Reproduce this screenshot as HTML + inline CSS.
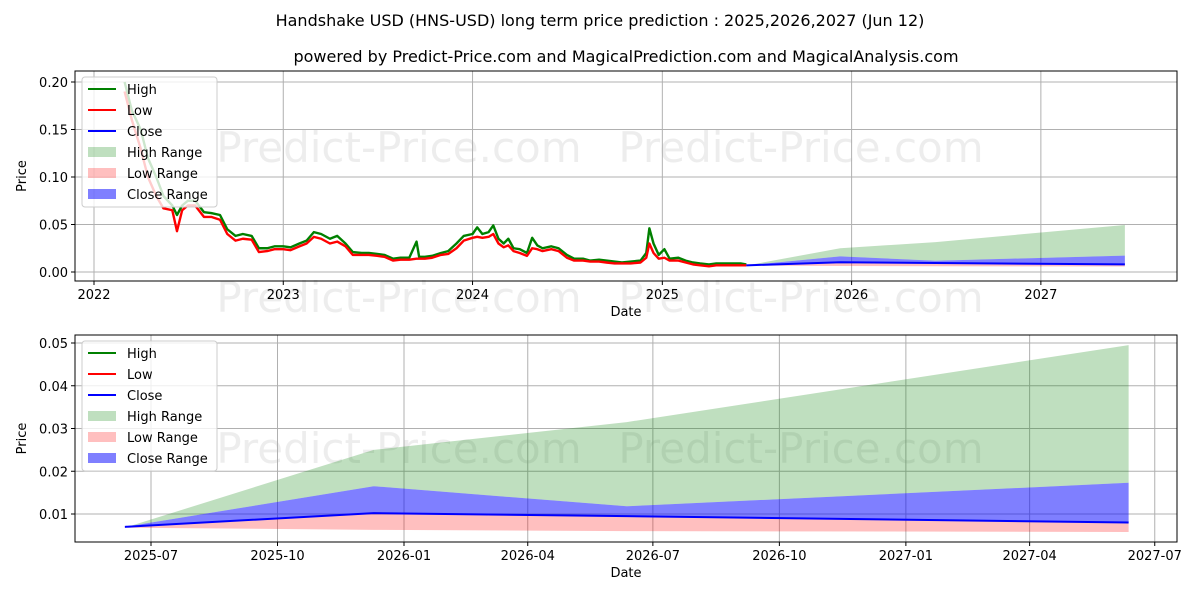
<!DOCTYPE html>
<html><head><meta charset="utf-8">
<style>
body{margin:0;background:#fff;}
svg{display:block;font-family:"DejaVu Sans","Liberation Sans",sans-serif;}
</style></head>
<body>
<svg id="chart" width="1200" height="600" viewBox="0 0 1200 600" xmlns="http://www.w3.org/2000/svg">
<rect width="1200" height="600" fill="#fff"/>
<text x="600" y="26" text-anchor="middle" font-size="16">Handshake USD (HNS-USD) long term price prediction : 2025,2026,2027 (Jun 12)</text>
<text x="626" y="62" text-anchor="middle" font-size="16">powered by Predict-Price.com and MagicalPrediction.com and MagicalAnalysis.com</text>
<g id="top"></g>
<g id="bot"></g>
</svg>
<script>
const histDates=["2022-03-01","2022-03-15","2022-04-01","2022-04-15","2022-05-01","2022-05-15","2022-06-01","2022-06-10","2022-06-20","2022-07-01","2022-07-15","2022-08-01","2022-08-15","2022-09-01","2022-09-15","2022-10-01","2022-10-15","2022-11-01","2022-11-15","2022-12-01","2022-12-15","2023-01-01","2023-01-15","2023-02-01","2023-02-15","2023-03-01","2023-03-15","2023-04-01","2023-04-15","2023-05-01","2023-05-15","2023-06-01","2023-06-15","2023-07-01","2023-07-15","2023-08-01","2023-08-15","2023-09-01","2023-09-15","2023-09-20","2023-10-01","2023-10-15","2023-11-01","2023-11-15","2023-12-01","2023-12-15","2024-01-01","2024-01-10","2024-01-20","2024-02-01","2024-02-10","2024-02-20","2024-03-01","2024-03-10","2024-03-20","2024-04-01","2024-04-15","2024-04-25","2024-05-05","2024-05-15","2024-06-01","2024-06-15","2024-07-01","2024-07-15","2024-08-01","2024-08-15","2024-09-01","2024-09-15","2024-10-01","2024-10-15","2024-11-01","2024-11-20","2024-12-01","2024-12-07","2024-12-15","2024-12-25","2025-01-05","2025-01-15","2025-02-01","2025-02-15","2025-03-01","2025-03-15","2025-04-01","2025-04-15","2025-05-01","2025-05-15","2025-06-01","2025-06-12"];
const histHigh=[0.20,0.17,0.15,0.12,0.10,0.08,0.07,0.06,0.07,0.075,0.075,0.063,0.062,0.06,0.045,0.038,0.04,0.038,0.025,0.025,0.027,0.027,0.026,0.03,0.033,0.042,0.04,0.035,0.038,0.03,0.021,0.02,0.02,0.019,0.018,0.014,0.015,0.015,0.032,0.016,0.016,0.017,0.02,0.022,0.03,0.038,0.04,0.047,0.04,0.042,0.049,0.035,0.03,0.035,0.025,0.024,0.02,0.036,0.028,0.025,0.027,0.025,0.018,0.014,0.014,0.012,0.013,0.012,0.011,0.01,0.011,0.012,0.02,0.046,0.03,0.018,0.024,0.014,0.015,0.012,0.01,0.009,0.008,0.009,0.009,0.009,0.009,0.008];
const histLow=[0.19,0.16,0.13,0.10,0.08,0.067,0.065,0.043,0.065,0.07,0.07,0.058,0.058,0.055,0.04,0.033,0.035,0.034,0.021,0.022,0.024,0.024,0.023,0.027,0.03,0.037,0.035,0.03,0.032,0.027,0.018,0.018,0.018,0.017,0.016,0.012,0.013,0.013,0.014,0.014,0.014,0.015,0.018,0.019,0.025,0.033,0.036,0.037,0.036,0.037,0.04,0.03,0.026,0.028,0.022,0.02,0.017,0.025,0.024,0.022,0.024,0.022,0.015,0.012,0.012,0.011,0.011,0.01,0.009,0.009,0.009,0.01,0.015,0.03,0.02,0.014,0.015,0.012,0.012,0.01,0.008,0.007,0.006,0.007,0.007,0.007,0.007,0.007];
const fcDates=["2025-06-12","2025-12-10","2026-06-12","2027-06-12"];
const fcHighTop=[0.0068,0.025,0.0315,0.0495];
const fcCloseTop=[0.007,0.0165,0.0118,0.0173];
const fcClose=[0.007,0.0102,0.0095,0.008];
const fcLowBottom=[0.0068,0.0063,0.006,0.0058];
const topYTicks=[0,0.05,0.10,0.15,0.20];
const topYLabels=["0.00","0.05","0.10","0.15","0.20"];
const topXTicks=["2022-01-01","2023-01-01","2024-01-01","2025-01-01","2026-01-01","2027-01-01"];
const topXLabels=["2022","2023","2024","2025","2026","2027"];
const botYTicks=[0.01,0.02,0.03,0.04,0.05];
const botYLabels=["0.01","0.02","0.03","0.04","0.05"];
const botXTicks=["2025-07-01","2025-10-01","2026-01-01","2026-04-01","2026-07-01","2026-10-01","2027-01-01","2027-04-01","2027-07-01"];
const botXLabels=["2025-07","2025-10","2026-01","2026-04","2026-07","2026-10","2027-01","2027-04","2027-07"];

const NS="http://www.w3.org/2000/svg";
const day=s=>Date.parse(s)/86400000;
function mk(parent,tag,attrs){const e=document.createElementNS(NS,tag);for(const k in attrs)e.setAttribute(k,attrs[k]);parent.appendChild(e);return e;}

function panel(g,o){
  const sx=d=>o.x0+(day(d)-day(o.d0))*o.pxd;
  const sy=v=>o.y0-(v-o.v0)*o.pxv;
  o.wm.forEach(p=>{const t=mk(g,'text',{x:p[0],y:p[1],'font-size':42,fill:'#000','fill-opacity':0.07,'text-anchor':'middle'});t.textContent='Predict-Price.com';
    
    });
  o.xt.forEach((d,i)=>{const x=sx(d);
    const l=mk(g,'line',{x1:x,x2:x,y1:o.top,y2:o.bottom,stroke:'#b0b0b0','stroke-width':1});
    
    
    mk(g,'line',{x1:x,x2:x,y1:o.bottom,y2:o.bottom+4,stroke:'#000'});
    const t=mk(g,'text',{x:x,y:o.bottom+18,'font-size':13,'text-anchor':'middle'});t.textContent=o.xl[i];
    
    });
  o.yt.forEach((v,i)=>{const y=sy(v);
    const l=mk(g,'line',{x1:o.left,x2:o.right,y1:y,y2:y,stroke:'#b0b0b0','stroke-width':1});
    
    
    mk(g,'line',{x1:o.left-4,x2:o.left,y1:y,y2:y,stroke:'#000'});
    const t=mk(g,'text',{x:o.left-7,y:y+5,'font-size':13,'text-anchor':'end'});t.textContent=o.yl[i];
    
    });
  const clip=mk(g,'clipPath',{id:o.id+'c'});mk(clip,'rect',{x:o.left,y:o.top,width:o.right-o.left,height:o.bottom-o.top});
  const dg=mk(g,'g',{'clip-path':'url(#'+o.id+'c)'});
  function band(lo,hi,fill,op,name){
    let pts=fcDates.map((d,i)=>sx(d)+','+sy(hi[i]));
    pts=pts.concat(fcDates.map((d,i)=>sx(d)+','+sy(lo[i])).reverse());
    const p=mk(dg,'polygon',{points:pts.join(' '),fill:fill,'fill-opacity':op});
    
    }
  band(fcCloseTop,fcHighTop,'#008000',0.25,'high-range-band');
  band(fcLowBottom,fcClose,'#ff0000',0.25,'low-range-band');
  band(fcClose,fcCloseTop,'#0000ff',0.5,'close-range-band');
  function line(ds,vs,col,w,name){const p=mk(dg,'polyline',{points:ds.map((d,i)=>sx(d)+','+sy(vs[i])).join(' '),fill:'none',stroke:col,'stroke-width':w,'stroke-linejoin':'round'});
    
    }
  if(o.hist){line(histDates,histHigh,'#008000',2.4,'high-line');line(histDates,histLow,'#ff0000',2.4,'low-line');}
  line(fcDates,fcClose,'#0000ff',2,'close-line');
  const fr=mk(g,'rect',{x:o.left,y:o.top,width:o.right-o.left,height:o.bottom-o.top,fill:'none',stroke:'#000','stroke-width':1});
  
  
  const xt=mk(g,'text',{x:(o.left+o.right)/2,y:o.bottom+35,'font-size':13,'text-anchor':'middle'});xt.textContent='Date';
  
  
  const yt=mk(g,'text',{x:0,y:0,'font-size':13,'text-anchor':'middle',transform:'translate(26,'+((o.top+o.bottom)/2)+') rotate(-90)'});yt.textContent='Price';
  
  
  const lg=mk(g,'g',{});
  
  
  const lx=o.left+7,ly=o.top+6;
  mk(lg,'rect',{x:lx,y:ly,width:135,height:130,rx:3,fill:'#fff','fill-opacity':0.8,stroke:'#ccc'});
  const items=[['High','line','#008000',1],['Low','line','#ff0000',1],['Close','line','#0000ff',1],['High Range','box','#008000',0.25],['Low Range','box','#ff0000',0.25],['Close Range','box','#0000ff',0.5]];
  items.forEach((it,i)=>{const y=ly+12+i*21;
    if(it[1]=='line')mk(lg,'line',{x1:lx+6,x2:lx+34,y1:y,y2:y,stroke:it[2],'stroke-width':2});
    else mk(lg,'rect',{x:lx+6,y:y-5,width:28,height:10,fill:it[2],'fill-opacity':it[3]});
    const t=mk(lg,'text',{x:lx+45,y:y+5,'font-size':13});t.textContent=it[0];
    
    });
}
panel(document.getElementById('top'),{id:'t',left:75,right:1177,top:71,bottom:281,x0:94,d0:'2022-01-01',pxd:189.4/365.25,y0:272,v0:0,pxv:950,xt:topXTicks,xl:topXLabels,yt:topYTicks,yl:topYLabels,hist:true,wm:[[399,162],[801,162],[399,312],[801,312]]});
panel(document.getElementById('bot'),{id:'b',left:75,right:1177,top:335,bottom:542,x0:151,d0:'2025-07-01',pxd:1.375,y0:514,v0:0.01,pxv:4275,xt:botXTicks,xl:botXLabels,yt:botYTicks,yl:botYLabels,hist:false,wm:[[399,463],[801,463]]});
</script>
</body></html>
